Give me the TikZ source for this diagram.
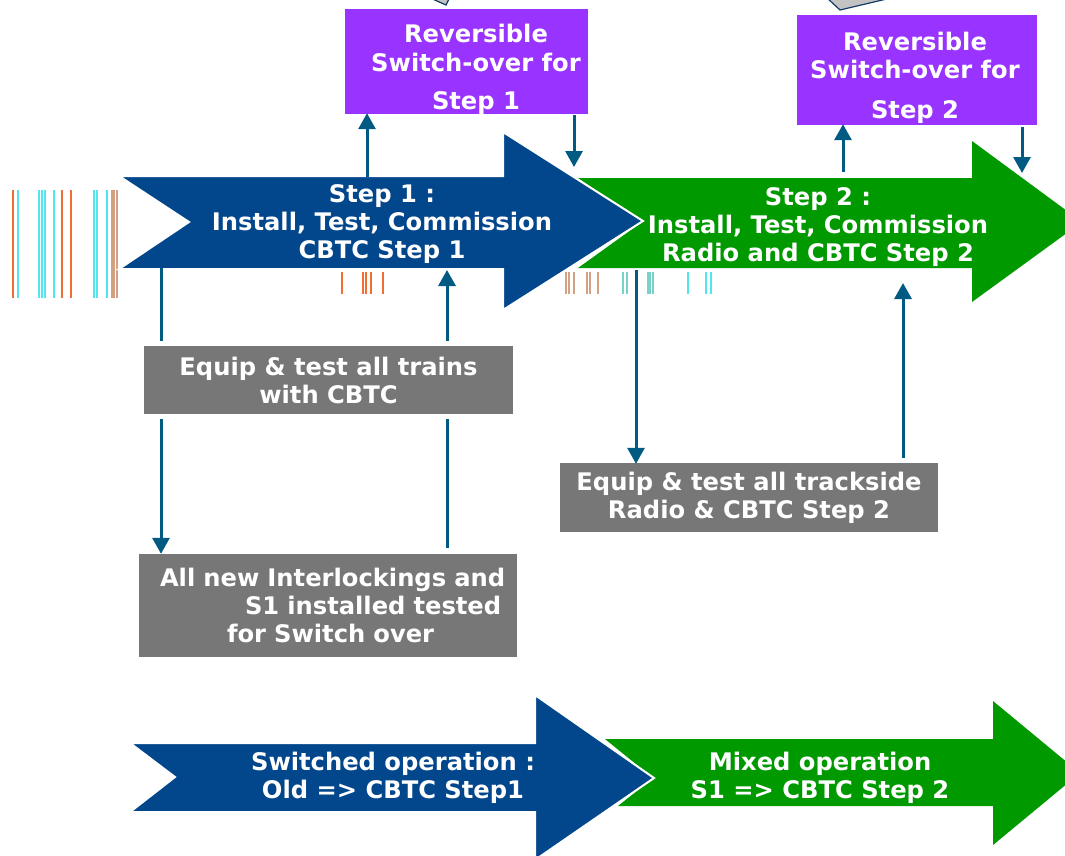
\documentclass[tikz,border=0pt]{standalone}
\usepackage{fontspec}
\setmainfont{DejaVu Sans}
\usetikzlibrary{arrows.meta}
\definecolor{cblue}{RGB}{2,70,140}
\definecolor{cgreen}{RGB}{0,153,0}
\definecolor{cpurple}{RGB}{153,51,255}
\definecolor{cgrey}{RGB}{119,119,119}
\definecolor{cconn}{RGB}{0,90,130}
\definecolor{cfrag}{RGB}{195,195,195}
\definecolor{cfragline}{RGB}{20,60,100}
\definecolor{sorange}{RGB}{240,110,50}
\definecolor{scyan}{RGB}{80,230,240}
\definecolor{stan}{RGB}{210,160,130}
\definecolor{steal}{RGB}{120,210,200}
\begin{document}
\begin{tikzpicture}[x=1pt,y=-1pt,
  txt/.style={text=white,font=\fontsize{24.2}{28}\selectfont\bfseries,align=center,inner sep=0pt},
  ptxt/.style={text=white,font=\fontsize{24.2}{28.5}\selectfont\bfseries,align=center,inner sep=0pt},
  pbox/.style={fill=cpurple,draw=none,inner sep=0pt},
  gbox/.style={fill=cgrey,draw=none,inner sep=0pt,text=white,font=\fontsize{24.2}{28}\selectfont\bfseries,align=center},
  conn/.style={draw=cconn,line width=3pt},
  conntip/.style={conn,-{Triangle[width=17pt,length=16pt]}},
  stripe/.style={line width=1.2pt}
]
\useasboundingbox (0,0) rectangle (1065,855);
\clip (0,0) rectangle (1065,855);
\fill[white] (0,0) rectangle (1065,855);

% top grey fragments
\filldraw[fill=cfrag,draw=cfragline,line width=1.2pt] (428,-3) -- (446,5) -- (450,-3);
\filldraw[fill=cfrag,draw=cfragline,line width=1.2pt] (826,-3) -- (840,10) -- (895,-3);

% stripes (scan artefacts)
\foreach \x/\c in {13/sorange,18/scyan,39/scyan,42/scyan,45/scyan,54/scyan,62/sorange,71/sorange,94/scyan,97/scyan,107/scyan,112/stan,114/stan,117/stan}
  \draw[stripe,\c] (\x,190) -- (\x,298);
\foreach \x/\c in {342/sorange,363/sorange,366/sorange,371/sorange,383/sorange,566/stan,569/stan,574/stan,587/stan,590/stan,598/stan,623/steal,627/steal,648/steal,650/steal,653/steal,688/scyan,706/scyan,711/scyan}
  \draw[stripe,\c] (\x,272) -- (\x,294);

% big arrows, top row
\fill[cgreen] (578,178) -- (972,178) -- (972,141) -- (1082,222) -- (972,302) -- (972,268) -- (578,268) -- (642,222) -- cycle;
\filldraw[fill=cblue,draw=white,line width=2pt,line join=miter] (119,176) -- (503,176) -- (503,132) -- (643,221) -- (503,310) -- (503,269) -- (119,269) -- (189,222) -- cycle;

% big arrows, bottom row
\fill[cgreen] (605,739) -- (993,739) -- (993,701) -- (1080,773) -- (993,845) -- (993,806) -- (618,806) -- (653,778) -- cycle;
\filldraw[fill=cblue,draw=white,line width=2pt,line join=miter] (130,743) -- (535,743) -- (535,695) -- (654,778) -- (535,860) -- (535,812) -- (130,812) -- (175,777) -- cycle;

% arrow texts
\node[txt] (s1) at (382,224) {Step 1 :\\Install, Test, Commission\\CBTC Step 1};
\node[txt] (s2) at (818,227) {Step 2 :\\Install, Test, Commission\\Radio and CBTC Step 2};
\node[txt] (o1) at (393,778) {Switched operation :\\Old => CBTC Step1};
\node[txt] (o2) at (820,778) {Mixed operation\\S1 => CBTC Step 2};

% purple boxes
\node[pbox,minimum width=243pt,minimum height=105pt] (p1) at (466.5,61.5) {};
\node[ptxt] (p1t) at (476,69.5) {Reversible\\Switch-over for\\[10pt]Step 1};
\node[pbox,minimum width=240pt,minimum height=110pt] (p2) at (917,70) {};
\node[ptxt] (p2t) at (915,77.5) {Reversible\\Switch-over for\\[11pt]Step 2};

% grey boxes
\node[gbox,minimum width=369pt,minimum height=68pt] (q1) at (328.5,380) {Equip \& test all trains\\with CBTC};
\node[gbox,minimum width=378pt,minimum height=103pt,text width=378pt,align=left] (q2) at (328,605.5)
  {\hspace*{21pt}All new Interlockings and\\\hspace*{106pt}S1 installed tested\\\hspace*{88pt}for Switch over};
\node[gbox,minimum width=378pt,minimum height=69pt] (q3) at (749,497.5) {Equip \& test all trackside\\Radio \& CBTC Step 2};

% connector end points on the big arrows
\coordinate (b1t) at (367,177);
\coordinate (b1h) at (574,167);
\coordinate (g1t) at (843,172);
\coordinate (g1h) at (1022,173);
\coordinate (b1l) at (161,268);
\coordinate (b1r) at (447,270);
\coordinate (g1l) at (636,270);
\coordinate (g1r) at (903,283);

% connectors
\draw[conntip] (b1t) -- ([yshift=1pt]p1.south -| b1t);
\draw[conntip,shorten <=1pt] (p1.south -| b1h) -- (b1h);
\draw[conntip] (g1t) -- ([yshift=1pt]p2.south -| g1t);
\draw[conntip,shorten <=2pt] (p2.south -| g1h) -- (g1h);
\draw[conn,shorten >=5pt] (b1l) -- (q1.north -| b1l);
\draw[conntip,shorten <=5pt] (q1.north -| b1r) -- (b1r);
\draw[conntip,shorten <=5pt] (q1.south -| b1l) -- (q2.north -| b1l);
\draw[conn,shorten <=6pt,shorten >=5pt] (q2.north -| b1r) -- (q1.south -| b1r);
\draw[conntip] (g1l) -- ([yshift=-1pt]q3.north -| g1l);
\draw[conntip,shorten <=5pt] (q3.north -| g1r) -- (g1r);
\end{tikzpicture}
\end{document}
